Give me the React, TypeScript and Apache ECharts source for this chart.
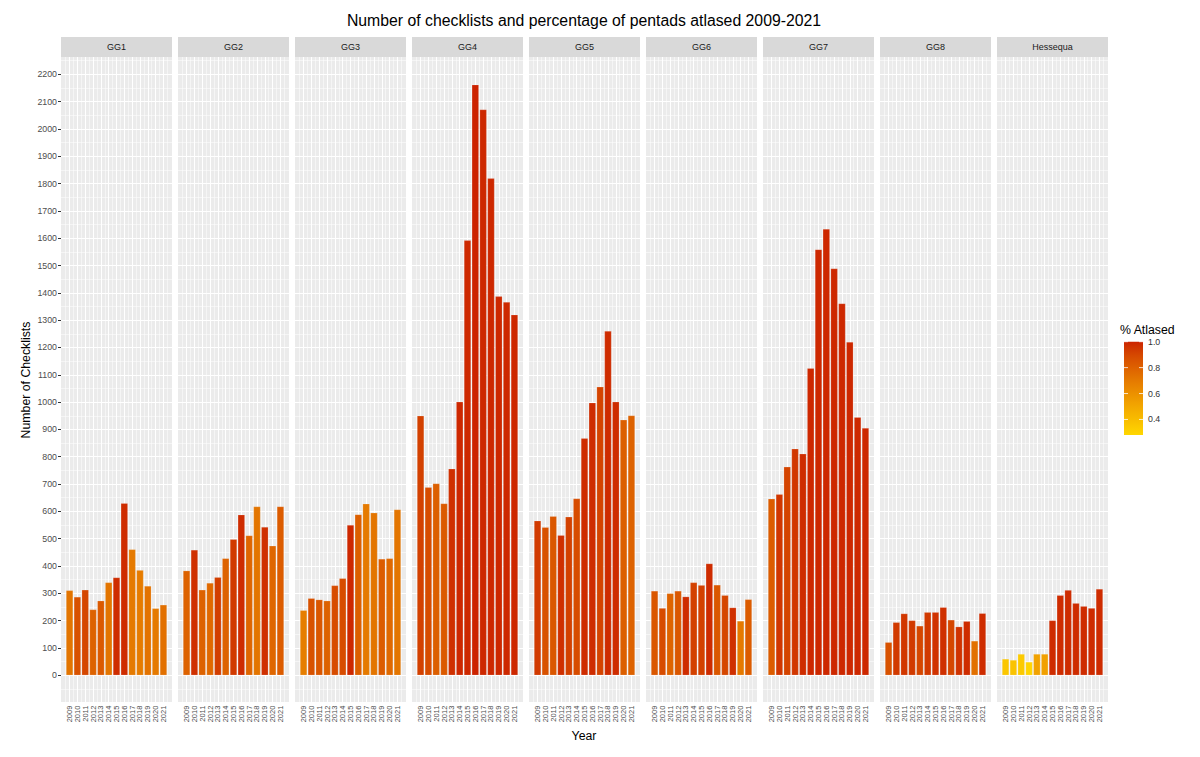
import React, { useEffect, useRef } from "react";
import * as echarts from "echarts";

// ---------- data ----------
const years = [2009, 2010, 2011, 2012, 2013, 2014, 2015, 2016, 2017, 2018, 2019, 2020, 2021];
const panelNames = ["GG1", "GG2", "GG3", "GG4", "GG5", "GG6", "GG7", "GG8", "Hessequa"];

const gg1Checklists = [311, 287, 313, 241, 273, 340, 358, 630, 461, 385, 327, 245, 258];
const gg1Atlased = [0.72, 0.86, 0.9, 0.8, 0.83, 0.72, 0.98, 0.98, 0.7, 0.69, 0.73, 0.7, 0.74];
const gg2Checklists = [383, 459, 313, 338, 359, 428, 498, 588, 512, 618, 543, 474, 618];
const gg2Atlased = [0.8, 0.97, 0.8, 0.77, 0.93, 0.8, 0.94, 0.98, 0.78, 0.72, 0.97, 0.78, 0.82];
const gg3Checklists = [238, 282, 277, 273, 329, 355, 550, 589, 628, 595, 426, 428, 607];
const gg3Atlased = [0.68, 0.86, 0.84, 0.8, 0.88, 0.88, 0.99, 0.81, 0.7, 0.72, 0.82, 0.77, 0.72];
const gg4Checklists = [950, 688, 702, 629, 756, 1001, 1592, 2162, 2071, 1819, 1387, 1366, 1320];
const gg4Atlased = [0.92, 0.88, 0.81, 0.83, 0.97, 0.99, 0.99, 1.0, 0.99, 0.99, 0.99, 0.99, 0.99];
const gg5Checklists = [566, 542, 582, 513, 580, 647, 868, 998, 1056, 1260, 1001, 935, 951];
const gg5Atlased = [0.94, 0.86, 0.84, 0.97, 0.92, 0.88, 0.98, 0.98, 0.91, 0.98, 0.98, 0.81, 0.8];
const gg6Checklists = [309, 246, 300, 309, 288, 340, 330, 409, 331, 293, 248, 199, 278];
const gg6Atlased = [0.84, 0.88, 0.79, 0.84, 0.98, 0.92, 0.92, 0.98, 0.84, 0.9, 0.97, 0.7, 0.82];
const gg7Checklists = [646, 663, 763, 829, 811, 1124, 1559, 1634, 1489, 1361, 1220, 945, 905];
const gg7Atlased = [0.82, 0.95, 0.91, 0.95, 0.98, 0.99, 0.99, 0.99, 0.99, 0.99, 0.99, 0.99, 0.99];
const gg8Checklists = [121, 194, 226, 201, 181, 231, 231, 249, 203, 178, 198, 126, 227];
const gg8Atlased = [0.86, 0.94, 0.95, 0.94, 0.9, 0.94, 0.96, 0.97, 0.9, 0.96, 0.98, 0.74, 0.98];
const hessequaChecklists = [60, 56, 78, 49, 78, 78, 201, 293, 312, 264, 253, 246, 316];
const hessequaAtlased = [0.36, 0.37, 0.34, 0.29, 0.52, 0.53, 0.98, 0.98, 0.98, 0.98, 0.98, 0.98, 0.98];

const checklists = [gg1Checklists, gg2Checklists, gg3Checklists, gg4Checklists, gg5Checklists, gg6Checklists, gg7Checklists, gg8Checklists, hessequaChecklists];
const atlased = [gg1Atlased, gg2Atlased, gg3Atlased, gg4Atlased, gg5Atlased, gg6Atlased, gg7Atlased, gg8Atlased, hessequaAtlased];

const yTickLabels = [0, 100, 200, 300, 400, 500, 600, 700, 800, 900, 1000, 1100, 1200, 1300, 1400, 1500, 1600, 1700, 1800, 1900, 2000, 2100, 2200];
const legendBreaks = [0.4, 0.6, 0.8, 1.0];
const atlasedLimits = [0.28, 1.0];
const lowColor = "#FFD700";
const highColor = "#CC2300";

// ---------- colour scale (Lab interpolation, like ggplot) ----------
function hexToRgb(h: string): number[] {
  const s = h.replace("#", "");
  return [0, 2, 4].map((i) => parseInt(s.slice(i, i + 2), 16));
}
function rgbToLab(rgb: number[]): number[] {
  const lin = rgb.map((v) => {
    const c = v / 255;
    return c <= 0.04045 ? c / 12.92 : Math.pow((c + 0.055) / 1.055, 2.4);
  });
  const X = (0.4124 * lin[0] + 0.3576 * lin[1] + 0.1805 * lin[2]) / 0.95047;
  const Y = 0.2126 * lin[0] + 0.7152 * lin[1] + 0.0722 * lin[2];
  const Z = (0.0193 * lin[0] + 0.1192 * lin[1] + 0.9505 * lin[2]) / 1.08883;
  const f = (t: number) => (t > 0.008856 ? Math.cbrt(t) : 7.787 * t + 16 / 116);
  const fx = f(X), fy = f(Y), fz = f(Z);
  return [116 * fy - 16, 500 * (fx - fy), 200 * (fy - fz)];
}
function labToHex(lab: number[]): string {
  const fy = (lab[0] + 16) / 116;
  const fx = fy + lab[1] / 500;
  const fz = fy - lab[2] / 200;
  const inv = (f: number) => (f * f * f > 0.008856 ? f * f * f : (f - 16 / 116) / 7.787);
  const X = inv(fx) * 0.95047, Y = inv(fy), Z = inv(fz) * 1.08883;
  const lin = [
    3.2406 * X - 1.5372 * Y - 0.4986 * Z,
    -0.9689 * X + 1.8758 * Y + 0.0415 * Z,
    0.0557 * X - 0.204 * Y + 1.057 * Z,
  ];
  return (
    "#" +
    lin
      .map((c) => {
        const v = c <= 0.0031308 ? 12.92 * c : 1.055 * Math.pow(c, 1 / 2.4) - 0.055;
        const n = Math.max(0, Math.min(255, Math.round(v * 255)));
        return n.toString(16).padStart(2, "0");
      })
      .join("")
  );
}
const lowLab = rgbToLab(hexToRgb(lowColor));
const highLab = rgbToLab(hexToRgb(highColor));
function fillFor(v: number): string {
  const t = Math.max(0, Math.min(1, (v - atlasedLimits[0]) / (atlasedLimits[1] - atlasedLimits[0])));
  return labToHex([0, 1, 2].map((i) => lowLab[i] + (highLab[i] - lowLab[i]) * t));
}

// ---------- layout ----------
const FONT = "Liberation Sans, Arial, Helvetica, sans-serif";
const PANEL_LEFT = 61;
const PANEL_W = 111;
const PANEL_STEP = 117;
// continuous x scale: bars of width 0.9 around each year, plus 5% expansion
const X_PAD = 0.45 + 0.05 * (years[years.length - 1] - years[0] + 0.9);
const X_MIN = years[0] - X_PAD;
const X_MAX = years[years.length - 1] + X_PAD;
const YEAR_PX = PANEL_W / (X_MAX - X_MIN);
const Y_MIN = -100;
const Y_MAX = 2300;
const ZERO_Y = 675.3;
const PX_PER_UNIT = 0.2732;
const GRID_TOP = ZERO_Y - Y_MAX * PX_PER_UNIT;
const GRID_H = (Y_MAX - Y_MIN) * PX_PER_UNIT;
const STRIP_TOP = 37;
const STRIP_H = 20;

const LEG_X = 1124;
const LEG_W = 19;
const LEG_TOP = 341.7;
const LEG_H = 93.3;

export default function App() {
  const ref = useRef<HTMLDivElement>(null);

  useEffect(() => {
    if (!ref.current) return;
    const chart = echarts.init(ref.current, null, { renderer: "svg" });

    const grids: any[] = [];
    const xAxes: any[] = [];
    const yAxes: any[] = [];
    const series: any[] = [];
    const graphics: any[] = [];

    const majorX = years.map((y) => ({ xAxis: y, lineStyle: { width: 1 } }));
    const minorX = [years[0] - 0.5, ...years.map((y) => y + 0.5)].map((y) => ({ xAxis: y, lineStyle: { width: 0.5 } }));

    panelNames.forEach((name, k) => {
      const left = PANEL_LEFT + k * PANEL_STEP;
      grids.push({
        left,
        top: GRID_TOP,
        width: PANEL_W,
        height: GRID_H,
        show: true,
        backgroundColor: "#EBEBEB",
        borderWidth: 0,
      });
      xAxes.push({
        type: "value",
        gridIndex: k,
        min: X_MIN,
        max: X_MAX,
        position: "bottom",
        axisLine: { show: false },
        axisTick: { show: true, customValues: years, length: 3, lineStyle: { color: "#333333", width: 1 } },
        axisLabel: {
          show: true,
          customValues: years,
          rotate: 90,
          fontSize: 7.5,
          color: "#4D4D4D",
          margin: 3,
          fontFamily: FONT,
          formatter: (v: number) => String(Math.round(v)),
        },
        splitLine: { show: false },
        minorSplitLine: { show: false },
      });
      yAxes.push({
        type: "value",
        gridIndex: k,
        min: Y_MIN,
        max: Y_MAX,
        interval: 100,
        axisLine: { show: false },
        axisTick: { show: false },
        axisLabel: { show: false },
        splitLine: { show: true, lineStyle: { color: "#FFFFFF", width: 1 } },
        minorTick: { show: false, splitNumber: 2 },
        minorSplitLine: { show: true, lineStyle: { color: "#FFFFFF", width: 0.5 } },
      });
      // vertical grid lines (major at years, minor at half years), drawn beneath the bars
      series.push({
        type: "line",
        xAxisIndex: k,
        yAxisIndex: k,
        data: [],
        z: 1,
        silent: true,
        markLine: {
          z: 1,
          silent: true,
          symbol: ["none", "none"],
          label: { show: false },
          emphasis: { disabled: true },
          lineStyle: { color: "#FFFFFF", type: "solid" },
          data: [...majorX, ...minorX],
        },
      });
      series.push({
        type: "bar",
        name,
        xAxisIndex: k,
        yAxisIndex: k,
        barWidth: 0.9 * YEAR_PX,
        z: 3,
        data: checklists[k].map((v, i) => ({
          value: [years[i], v],
          itemStyle: { color: fillFor(atlased[k][i]) },
        })),
        itemStyle: { borderColor: "rgba(255,255,255,0.35)", borderWidth: 0.5 },
        emphasis: { disabled: true },
      });
      graphics.push({
        type: "rect",
        z: 100,
        shape: { x: left, y: STRIP_TOP, width: PANEL_W, height: STRIP_H },
        style: { fill: "#D9D9D9" },
        silent: true,
      });
      graphics.push({
        type: "text",
        z: 101,
        x: left + PANEL_W / 2,
        y: STRIP_TOP + STRIP_H / 2,
        style: { text: name, fill: "#1A1A1A", fontSize: 9, fontFamily: FONT, align: "center", verticalAlign: "middle" },
        silent: true,
      });
    });

    // y labels / ticks on the first panel only
    yAxes.push({
      type: "value",
      gridIndex: 0,
      min: Y_MIN,
      max: Y_MAX,
      interval: 100,
      position: "left",
      axisLine: { show: false },
      axisTick: { show: true, length: 3, customValues: yTickLabels, lineStyle: { color: "#333333", width: 1 } },
      axisLabel: {
        show: true,
        customValues: yTickLabels,
        fontSize: 8.8,
        color: "#4D4D4D",
        margin: 4,
        fontFamily: FONT,
        formatter: (v: number) => (v >= 0 && v <= 2200 ? String(v) : ""),
      },
      splitLine: { show: false },
    });

    // titles
    graphics.push({
      type: "text",
      x: 584,
      y: 20,
      style: {
        text: "Number of checklists and percentage of pentads atlased 2009-2021",
        fill: "#000000",
        fontSize: 15.8,
        fontFamily: FONT,
        align: "center",
        verticalAlign: "middle",
      },
    });
    graphics.push({
      type: "text",
      x: 584,
      y: 736,
      style: { text: "Year", fill: "#000000", fontSize: 12.3, fontFamily: FONT, align: "center", verticalAlign: "middle" },
    });
    graphics.push({
      type: "text",
      x: 26,
      y: 380,
      rotation: Math.PI / 2,
      style: {
        text: "Number of Checklists",
        fill: "#000000",
        fontSize: 12.3,
        fontFamily: FONT,
        align: "center",
        verticalAlign: "middle",
      },
    });

    // legend (colour bar)
    const stops: any[] = [];
    for (let i = 0; i <= 20; i++) {
      const off = i / 20;
      const v = atlasedLimits[1] - off * (atlasedLimits[1] - atlasedLimits[0]);
      stops.push({ offset: off, color: fillFor(v) });
    }
    graphics.push({
      type: "text",
      x: 1120,
      y: 330,
      style: { text: "% Atlased", fill: "#000000", fontSize: 12.3, fontFamily: FONT, align: "left", verticalAlign: "middle" },
    });
    graphics.push({
      type: "rect",
      shape: { x: LEG_X, y: LEG_TOP, width: LEG_W, height: LEG_H },
      style: { fill: new echarts.graphic.LinearGradient(0, 0, 0, 1, stops) },
    });
    legendBreaks.forEach((b) => {
      const y = LEG_TOP + ((atlasedLimits[1] - b) / (atlasedLimits[1] - atlasedLimits[0])) * LEG_H;
      graphics.push({
        type: "line",
        z: 10,
        shape: { x1: LEG_X, y1: y, x2: LEG_X + 4, y2: y },
        style: { stroke: "#FFFFFF", lineWidth: 0.8 },
      });
      graphics.push({
        type: "line",
        z: 10,
        shape: { x1: LEG_X + LEG_W - 4, y1: y, x2: LEG_X + LEG_W, y2: y },
        style: { stroke: "#FFFFFF", lineWidth: 0.8 },
      });
      graphics.push({
        type: "text",
        x: LEG_X + LEG_W + 5,
        y,
        style: { text: b.toFixed(1), fill: "#333333", fontSize: 8.8, fontFamily: FONT, align: "left", verticalAlign: "middle" },
      });
    });

    chart.setOption({
      animation: false,
      backgroundColor: "#FFFFFF",
      textStyle: { fontFamily: FONT },
      grid: grids,
      xAxis: xAxes,
      yAxis: yAxes,
      series,
      graphic: { elements: graphics },
    });

    return () => chart.dispose();
  }, []);

  return <div ref={ref} style={{ position: "fixed", left: 0, top: 0, width: 1200, height: 757 }} />;
}
